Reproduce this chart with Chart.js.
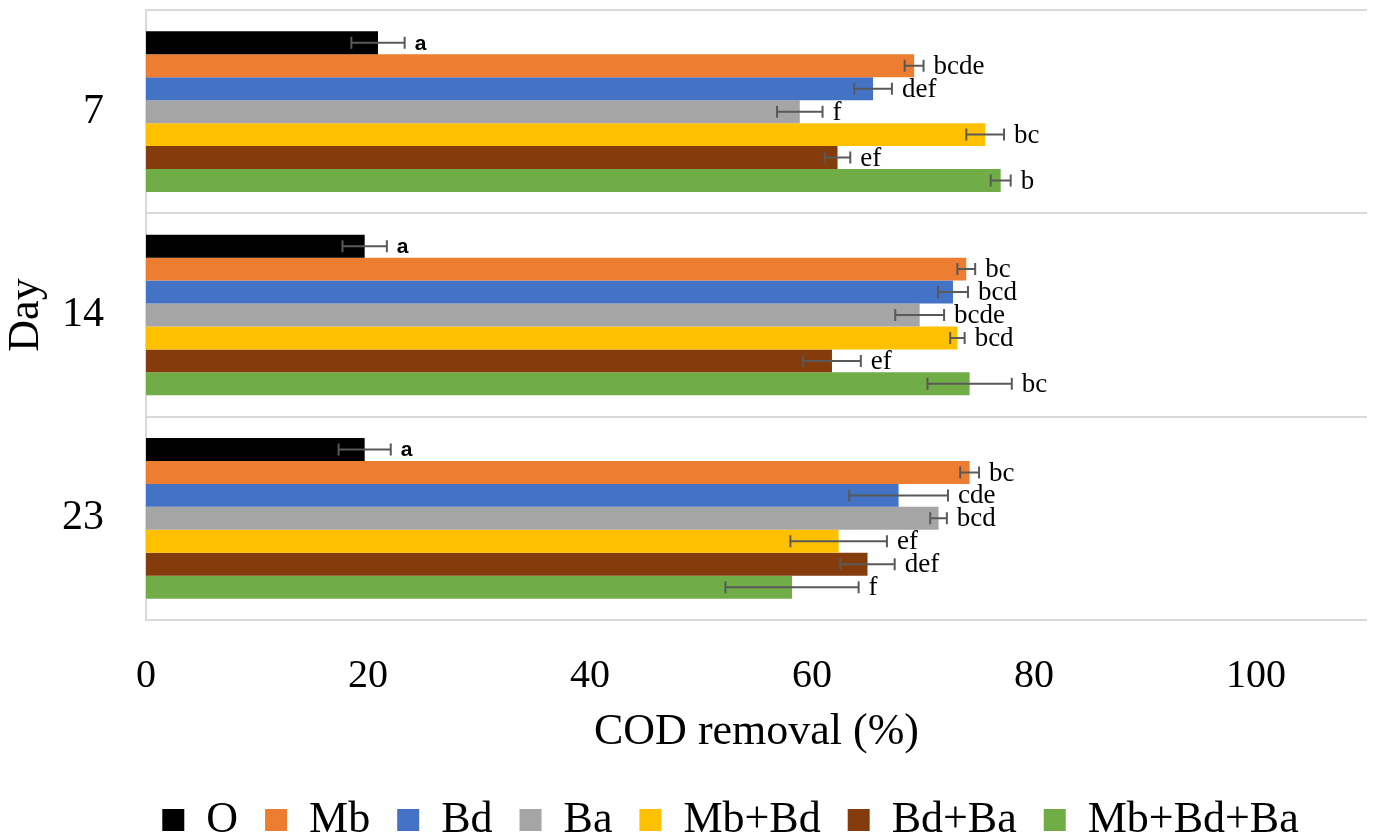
<!DOCTYPE html>
<html>
<head>
<meta charset="utf-8">
<script src="https://cdn.jsdelivr.net/npm/chart.js@4/dist/chart.umd.min.js"></script>
<style>
html,body{margin:0;padding:0;background:#ffffff;}
#wrap{width:1373px;height:836px;position:relative;}
</style>
</head>
<body>
<div id="wrap"><canvas id="c"></canvas></div>
<script>
// ---- data ----
const days = ['7', '14', '23'];
const seriesNames = ['O', 'Mb', 'Bd', 'Ba', 'Mb+Bd', 'Bd+Ba', 'Mb+Bd+Ba'];
const xTicks = [0, 20, 40, 60, 80, 100];

const valO      = [20.9, 19.7, 19.7];
const valMb     = [69.2, 73.9, 74.2];
const valBd     = [65.5, 72.7, 67.8];
const valBa     = [58.9, 69.7, 71.4];
const valMbBd   = [75.6, 73.1, 62.4];
const valBdBa   = [62.3, 61.8, 65.0];
const valMbBdBa = [77.0, 74.2, 58.2];

const errO      = [2.4, 2.0, 2.35];
const errMb     = [0.85, 0.8, 0.85];
const errBd     = [1.7, 1.35, 4.45];
const errBa     = [2.05, 2.2, 0.75];
const errMbBd   = [1.7, 0.65, 4.35];
const errBdBa   = [1.15, 2.6, 2.45];
const errMbBdBa = [0.9, 3.8, 6.0];

const letO      = ['a', 'a', 'a'];
const letMb     = ['bcde', 'bc', 'bc'];
const letBd     = ['def', 'bcd', 'cde'];
const letBa     = ['f', 'bcde', 'bcd'];
const letMbBd   = ['bc', 'bcd', 'ef'];
const letBdBa   = ['ef', 'ef', 'def'];
const letMbBdBa = ['b', 'bc', 'f'];

// ---- styles ----
const colors = ['#000000', '#ED7D31', '#4472C4', '#A5A5A5', '#FFC000', '#843C0C', '#70AD47'];
const allVals = [valO, valMb, valBd, valBa, valMbBd, valBdBa, valMbBdBa];
const allErrs = [errO, errMb, errBd, errBa, errMbBd, errBdBa, errMbBdBa];
const allLets = [letO, letMb, letBd, letBa, letMbBd, letBdBa, letMbBdBa];

const SERIF = '"Liberation Serif", "Times New Roman", serif';

const errorBarPlugin = {
  id: 'errorBars',
  afterDatasetsDraw(chart) {
    const ctx = chart.ctx;
    const xs = chart.scales.x;
    chart.data.datasets.forEach((ds, i) => {
      const meta = chart.getDatasetMeta(i);
      meta.data.forEach((el, j) => {
        const v = ds.data[j], e = ds.errors[j];
        const xl = xs.getPixelForValue(v - e);
        const xh = xs.getPixelForValue(v + e);
        const y = el.y;
        ctx.save();
        ctx.strokeStyle = '#595959';
        ctx.lineWidth = 2;
        ctx.beginPath();
        ctx.moveTo(xl, y); ctx.lineTo(xh, y);
        ctx.moveTo(xl, y - 6); ctx.lineTo(xl, y + 6);
        ctx.moveTo(xh, y - 6); ctx.lineTo(xh, y + 6);
        ctx.stroke();
        ctx.fillStyle = '#000000';
        ctx.textAlign = 'left';
        ctx.textBaseline = 'middle';
        if (i === 0) {
          ctx.font = 'bold 21px "Liberation Sans", Arial, sans-serif';
        } else {
          ctx.font = '27px ' + SERIF;
        }
        ctx.fillText(ds.letters[j], xh + 10, y + 1);
        ctx.restore();
      });
    });
  }
};

const legendShift = {
  id: 'legendShift',
  afterLayout(chart) {
    const lg = chart.legend;
    if (lg) {
      lg.left += 94;
      lg.top += 16;
      lg.bottom += 16;
    }
  }
};

const datasets = seriesNames.map((name, i) => ({
  label: name,
  data: allVals[i],
  errors: allErrs[i],
  letters: allLets[i],
  backgroundColor: colors[i],
  borderWidth: 0,
  categoryPercentage: 0.79,
  barPercentage: 1.0
}));

new Chart(document.getElementById('c'), {
  type: 'bar',
  data: { labels: days, datasets: datasets },
  plugins: [errorBarPlugin, legendShift],
  options: {
    indexAxis: 'y',
    responsive: true,
    maintainAspectRatio: false,
    animation: false,
    layout: { padding: { top: 10, right: 6, left: 0, bottom: 0 } },
    plugins: {
      tooltip: { enabled: false },
      legend: {
        position: 'bottom',
        align: 'center',
        labels: {
          boxWidth: 22,
          boxHeight: 22,
          padding: 27,
          color: '#000000',
          font: { family: SERIF, size: 44 }
        }
      }
    },
    scales: {
      x: {
        type: 'linear',
        min: 0,
        max: 110,
        afterBuildTicks(scale) { scale.ticks = xTicks.map(v => ({ value: v })); },
        afterFit(scale) { scale.height = 135; scale.paddingLeft = 0; scale.paddingRight = 0; },
        grid: { display: false, drawTicks: false },
        border: { display: false },
        ticks: {
          color: '#000000',
          font: { family: SERIF, size: 40 },
          padding: 32,
          maxRotation: 0
        },
        title: {
          display: true,
          text: 'COD removal (%)',
          color: '#000000',
          font: { family: SERIF, size: 44 },
          padding: { top: 0, bottom: -4 }
        }
      },
      y: {
        type: 'category',
        afterFit(scale) { scale.width = 146; scale.paddingTop = 0; scale.paddingBottom = 0; },
        grid: { color: '#D9D9D9', lineWidth: 2, drawTicks: false, offset: true },
        border: { display: true, color: '#D9D9D9', width: 2 },
        ticks: {
          color: '#000000',
          font: { family: SERIF, size: 42 },
          padding: 42
        },
        title: {
          display: true,
          text: 'Day',
          color: '#000000',
          font: { family: SERIF, size: 44 },
          padding: 0
        }
      }
    }
  }
});
</script>
</body>
</html>
